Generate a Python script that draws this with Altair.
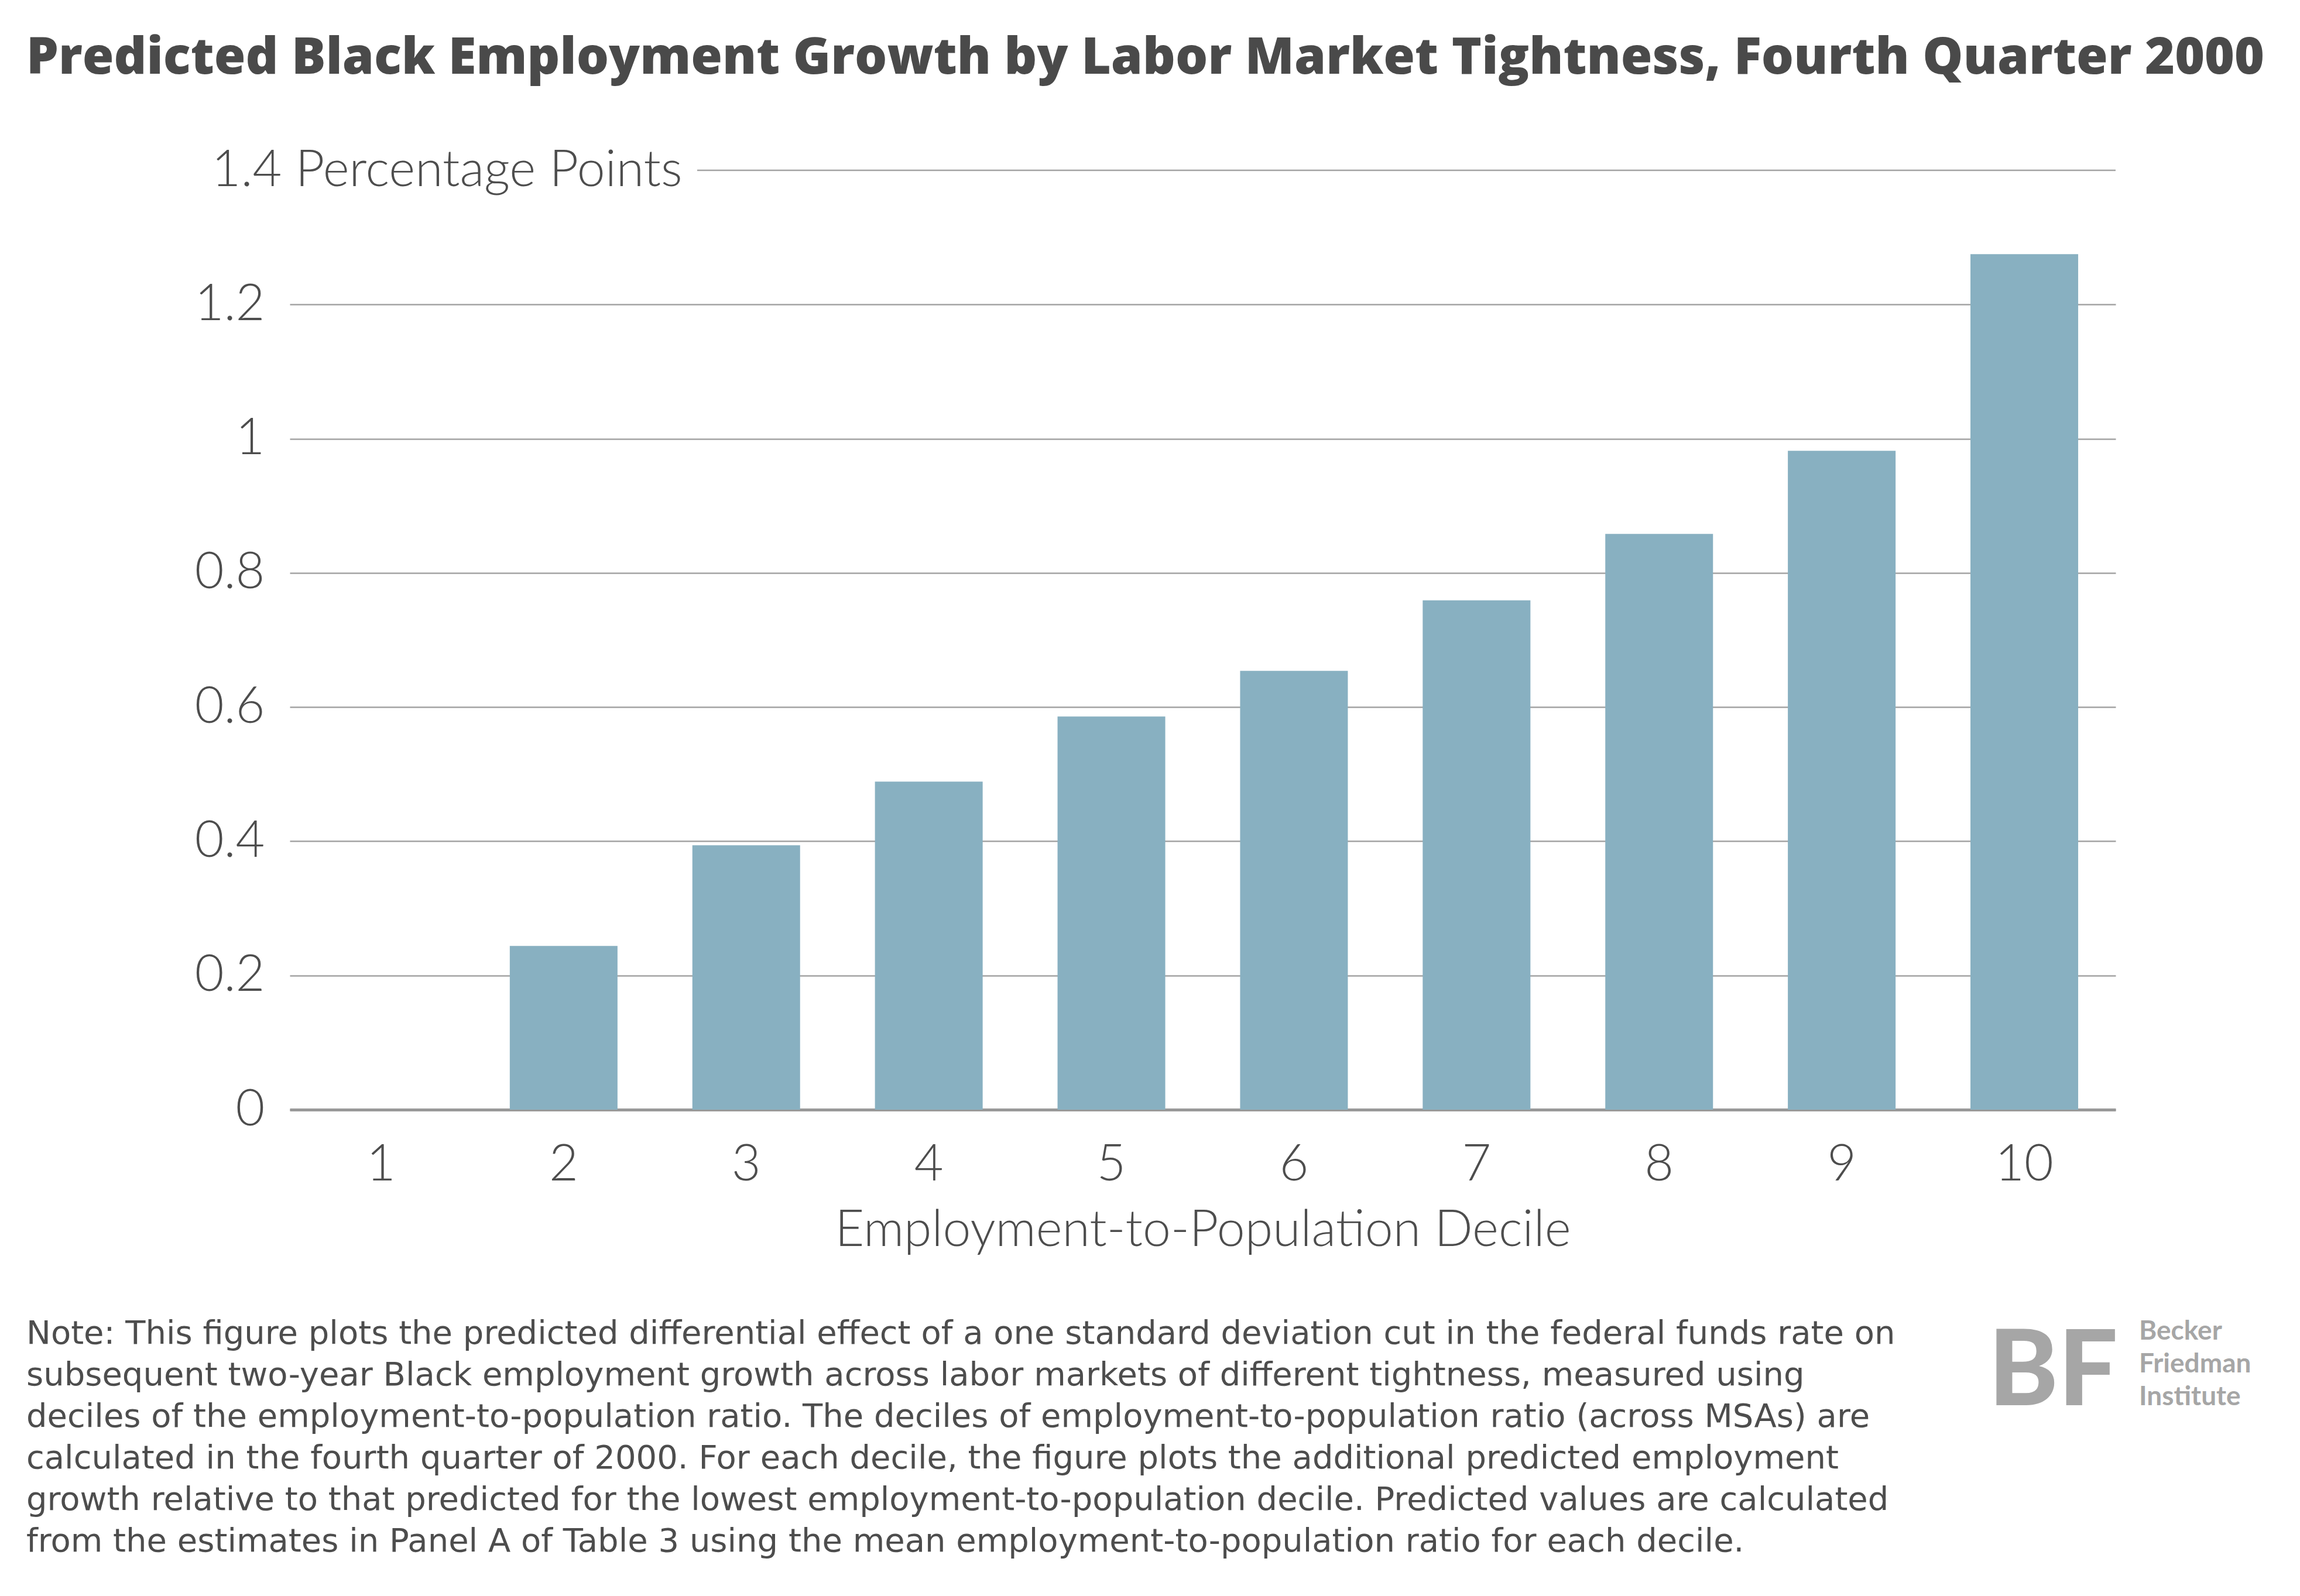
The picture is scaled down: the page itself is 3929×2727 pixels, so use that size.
import altair as alt
import pandas as pd

# values
deciles = ["1", "2", "3", "4", "5", "6", "7", "8", "9", "10"]
growth = [0.0, 0.244, 0.394, 0.489, 0.586, 0.654, 0.759, 0.858, 0.982, 1.275]
y_ticks = [0, 0.2, 0.4, 0.6, 0.8, 1.0, 1.2, 1.4]

title_text = "Predicted Black Employment Growth by Labor Market Tightness, Fourth Quarter 2000"
x_title = "Employment-to-Population Decile"
y_unit = "Percentage Points"
note_lines = [
    "Note: This figure plots the predicted differential effect of a one standard deviation cut in the federal funds rate on",
    "subsequent two-year Black employment growth across labor markets of different tightness, measured using",
    "deciles of the employment-to-population ratio. The deciles of employment-to-population ratio (across MSAs) are",
    "calculated in the fourth quarter of 2000. For each decile, the figure plots the additional predicted employment",
    "growth relative to that predicted for the lowest employment-to-population decile. Predicted values are calculated",
    "from the estimates in Panel A of Table 3 using the mean employment-to-population ratio for each decile.",
]
logo_lines = ["Becker", "Friedman", "Institute"]

TEXT = "#4d4d4d"
BAR = "#88b0c1"
GRID = "#a3a3a3"
LOGO = "#a6a6a6"
W, H = 3119, 1605

df = pd.DataFrame({"decile": deciles, "growth": growth})
y_scale = alt.Scale(domain=[0, 1.4], nice=False)

bars = alt.Chart(df).mark_bar(color=BAR).encode(
    x=alt.X("decile:O", sort=deciles,
            scale=alt.Scale(paddingInner=0.41, paddingOuter=0.205),
            axis=alt.Axis(title=x_title, labelAngle=0, ticks=False,
                          domainColor="#999999", domainWidth=5,
                          labelFont="Lato", labelFontWeight=300, labelFontSize=86,
                          labelColor=TEXT, labelPadding=52,
                          titleFont="Lato", titleFontWeight=300, titleFontSize=86,
                          titleColor=TEXT, titlePadding=27)),
    y=alt.Y("growth:Q", scale=y_scale,
            axis=alt.Axis(title=None, values=y_ticks, format="~g", domain=False, ticks=False,
                          labelExpr=f"datum.value > 1.3 ? datum.label + ' {y_unit}' : datum.label",
                          labelAlign={"condition": {"test": "datum.value > 1.3", "value": "left"}, "value": "right"},
                          labelPadding={"condition": {"test": "datum.value > 1.3", "value": 134}, "value": 43},
                          gridOpacity={"condition": {"test": "datum.value > 1.3", "value": 0}, "value": 1},
                          gridColor=GRID, gridWidth=2.5, labelLimit=2000,
                          labelFont="Lato", labelFontWeight=300, labelFontSize=86,
                          labelColor=TEXT, labelBaseline="middle")),
)

# top gridline starts after the unit label
top_rule = alt.Chart(df.head(1)).mark_rule(color=GRID, strokeWidth=2.5).encode(
    y=alt.Y(datum=y_ticks[-1]), x=alt.value(696), x2=alt.value(W)
)

note = alt.Chart(pd.DataFrame({"t": ["\n".join(note_lines)]})).mark_text(
    align="left", baseline="alphabetic", lineBreak="\n", lineHeight=71,
    font="DejaVu Sans", fontSize=56, color=TEXT
).encode(text="t:N", x=alt.value(-450), y=alt.value(2005))

logo_text = alt.Chart(pd.DataFrame({"t": ["\n".join(logo_lines)]})).mark_text(
    align="left", baseline="alphabetic", lineBreak="\n", lineHeight=56,
    font="Lato", fontSize=46, fontWeight="bold", color=LOGO
).encode(text="t:N", x=alt.value(3159), y=alt.value(1998))

logo_bf = alt.Chart(pd.DataFrame({"t": ["BF"]})).mark_text(
    align="right", baseline="alphabetic", font="Lato", fontSize=180,
    fontWeight=900, color=LOGO
).encode(text="t:N", x=alt.value(3123), y=alt.value(2110))

chart = alt.layer(bars, top_rule, note, logo_text, logo_bf).properties(
    width=W, height=H,
    padding={"left": 37, "top": 48, "right": 5, "bottom": 5},
    title=alt.Title(title_text, anchor="start", font="Open Sans", fontSize=87,
                    fontWeight=800, color="#4a4a4a", offset=104),
).configure_view(stroke=None)

chart.save("out.html", embed_options={"renderer": "svg", "actions": False})
